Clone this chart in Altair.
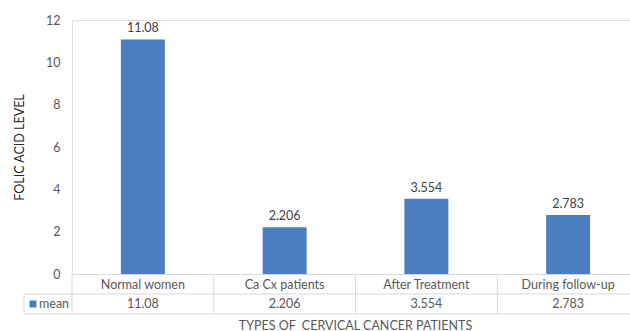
import altair as alt
import pandas as pd

# Mean folic acid level per patient group
categories = ["Normal women", "Ca Cx patients", "After Treatment", "During follow-up"]
means = [11.08, 2.206, 3.554, 2.783]
value_labels = ["11.08", "2.206", "3.554", "2.783"]
y_ticks = [0, 2, 4, 6, 8, 10, 12]

df = pd.DataFrame({"group": categories, "mean": means, "label": value_labels})

FONT = "Lato"
BAR = "#4a7ebf"
GRID = "#d9d9d9"
W, H = 558, 254          # visible plot area
STEP = 141.75            # width of one table column
SPAN = STEP * len(categories)  # the category band runs past the right edge

x_enc = alt.X(
    "group:N",
    sort=categories,
    scale=alt.Scale(range=[0, SPAN], paddingInner=0.69, paddingOuter=0.345),
    axis=alt.Axis(
        title="TYPES OF\u00a0 CERVICAL CANCER PATIENTS",
        titleFont=FONT,
        titleFontSize=12.5,
        titleFontWeight="normal",
        titleColor="#595959",
        titleBaseline="middle",
        titleX=283,
        titleY=51,
        labelFont=FONT,
        labelFontSize=12.5,
        labelColor="#595959",
        labelAngle=0,
        labelBaseline="middle",
        labelPadding=10,
        ticks=False,
        domainColor=GRID,
    ),
)

y_enc = alt.Y(
    "mean:Q",
    scale=alt.Scale(domain=[0, 12], nice=False),
    axis=alt.Axis(
        title="FOLIC ACID LEVEL",
        titleFont=FONT,
        titleFontSize=12.5,
        titleFontWeight="normal",
        titleColor="#262626",
        titlePadding=19,
        values=y_ticks,
        labelFont=FONT,
        labelFontSize=12.5,
        labelColor="#595959",
        labelPadding=12,
        ticks=False,
        domain=False,
        grid=False,
    ),
)

bars = alt.Chart(df).mark_bar(color=BAR).encode(x=x_enc, y=y_enc)

bar_text = alt.Chart(df).mark_text(
    font=FONT, fontSize=12.5, color="#404040", baseline="bottom", dy=-4
).encode(x=alt.X("group:N", sort=categories), y="mean:Q", text="label:N")

# data table grid: two row lines, column separators, legend cell border
row_lines = pd.DataFrame({"y": [H + 20, H + 40]})
hlines = alt.Chart(row_lines).mark_rule(color=GRID, strokeWidth=1).encode(
    x=alt.value(-48), x2=alt.value(W), y=alt.Y("y:Q", scale=None)
)
col_lines = pd.DataFrame({"x": [i * STEP for i in range(len(categories))]})
vlines = alt.Chart(col_lines).mark_rule(color=GRID, strokeWidth=1).encode(
    x=alt.X("x:Q", scale=None), y=alt.value(H), y2=alt.value(H + 40)
)
left_border = alt.Chart(pd.DataFrame({"a": [0]})).mark_rule(color=GRID).encode(
    x=alt.value(-48), y=alt.value(H + 20), y2=alt.value(H + 40)
)
table_vals = alt.Chart(df).mark_text(
    font=FONT, fontSize=12.5, color="#595959", baseline="middle"
).encode(x=alt.X("group:N", sort=categories), y=alt.value(H + 30), text="label:N")

legend_df = pd.DataFrame({"name": ["mean"]})
legend_sq = alt.Chart(legend_df).mark_square(color=BAR, size=49, opacity=1).encode(
    x=alt.value(-39), y=alt.value(H + 30)
)
legend_txt = alt.Chart(legend_df).mark_text(
    font=FONT, fontSize=12.5, color="#595959", align="left", baseline="middle"
).encode(x=alt.value(-33), y=alt.value(H + 30), text="name:N")

chart = (
    alt.layer(bars, bar_text, hlines, vlines, left_border, table_vals, legend_sq, legend_txt)
    .properties(
        width=W,
        height=H,
        autosize=alt.AutoSizeParams(type="none"),
        padding={"left": 72, "top": 20, "right": 0, "bottom": 57},
    )
    .configure_view(stroke=None)
    .configure(background="white")
)

chart.save("out.html", embed_options={"renderer": "svg", "actions": False})
